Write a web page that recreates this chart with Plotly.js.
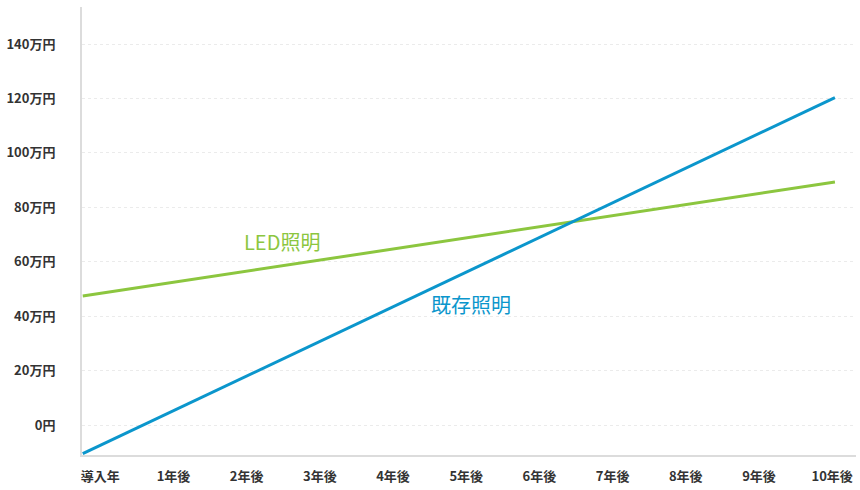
<!DOCTYPE html>
<html><head><meta charset="utf-8">
<script src="https://cdn.plot.ly/plotly-3.0.1.min.js"></script>
<style>html,body{margin:0;padding:0;background:#fff}</style>
</head><body>
<div id="chart" style="width:860px;height:490px"></div>
<script>
var categories = ["導入年","1年後","2年後","3年後","4年後","5年後","6年後","7年後","8年後","9年後","10年後"];
var existingValues = [-10.5, 2.6, 15.7, 28.8, 41.9, 55.0, 68.1, 81.2, 94.3, 107.4, 120.3];
var ledValues = [47.4, 51.6, 55.8, 60.0, 64.2, 68.4, 72.6, 76.8, 81.0, 85.2, 89.3];
var yTickVals = [0, 20, 40, 60, 80, 100, 120, 140];
var yTickText = ["0円","20万円","40万円","60万円","80万円","100万円","120万円","140万円"];

var xIdx = categories.map(function(c, i){ return i; });
var labelPos = categories.map(function(c, i){ return 0.233 + 0.973 * i; });

var font = "'Noto Sans CJK JP', 'Noto Sans', sans-serif";
var traces = [
  {x: xIdx, y: ledValues, type: 'scatter', mode: 'lines', line: {color: '#8cc63f', width: 3}, hoverinfo: 'skip'},
  {x: xIdx, y: existingValues, type: 'scatter', mode: 'lines', line: {color: '#0b96cc', width: 3}, hoverinfo: 'skip'}
];
var layout = {
  width: 860, height: 490,
  margin: {l: 82, r: 4, t: 7, b: 35},
  showlegend: false,
  paper_bgcolor: '#fff', plot_bgcolor: '#fff',
  font: {family: font, size: 13, color: '#333'},
  xaxis: {
    range: [-0.01, 10.28], tickvals: labelPos, ticktext: categories,
    showgrid: false, zeroline: false, showline: true, linecolor: '#dcdcdc', linewidth: 2,
    ticks: '', ticklabelstandoff: 8,
    tickfont: {family: font, size: 13, color: '#333', weight: 'bold'}
  },
  yaxis: {
    range: [-11, 153.6], tickvals: yTickVals, ticktext: yTickText,
    showgrid: true, gridcolor: '#ebebeb', griddash: 'dot', gridwidth: 1,
    zeroline: false, showline: true, linecolor: '#dcdcdc', linewidth: 2,
    ticks: '', ticklabelstandoff: 22,
    tickfont: {family: font, size: 13, color: '#333', weight: 'bold'}
  },
  annotations: [
    {x: 281.5, y: 241, xref: 'paper', yref: 'paper', text: 'LED照明', showarrow: false,
     font: {family: font, size: 20, color: '#8cc63f'}, xanchor: 'center', yanchor: 'middle'},
    {x: 471, y: 304, xref: 'paper', yref: 'paper', text: '既存照明', showarrow: false,
     font: {family: font, size: 20, color: '#0b96cc'}, xanchor: 'center', yanchor: 'middle'}
  ]
};
// convert pixel annotation positions to paper coords
var pw = 860 - 82 - 4, ph = 490 - 7 - 35;
layout.annotations.forEach(function(a){
  a.x = (a.x - 82) / pw;
  a.y = 1 - (a.y - 7) / ph;
});
Plotly.newPlot('chart', traces, layout, {displayModeBar: false, staticPlot: true});
</script>
</body></html>
